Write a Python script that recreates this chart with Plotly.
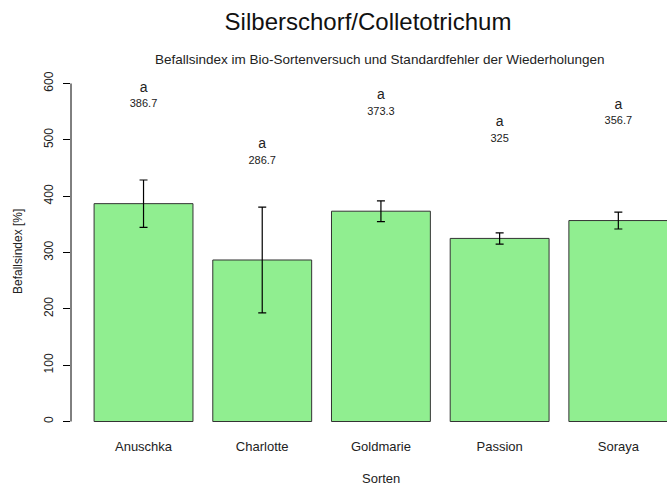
import plotly.graph_objects as go

sorten = ["Anuschka", "Charlotte", "Goldmarie", "Passion", "Soraya"]
befall = [386.7, 286.7, 373.3, 325, 356.7]
stdfehler = [42, 94, 18.5, 10, 15]
buchstaben = ["a", "a", "a", "a", "a"]
y_ticks = [0, 100, 200, 300, 400, 500, 600]

FONT = "Liberation Sans, Arial, sans-serif"
W, H = 667, 487
L, R, T, B = 71, 0, 60, 57

fig = go.Figure()

fig.add_trace(go.Bar(
    x=sorten, y=befall, width=0.833,
    marker=dict(color="#90EE90", line=dict(color="#333333", width=1)),
    error_y=dict(type="data", array=stdfehler, visible=True,
                 color="black", thickness=1.2, width=4),
    hoverinfo="skip",
))

# significance letters and mean values above the bars
fig.add_trace(go.Scatter(
    x=sorten, y=[v + 205 for v in befall], mode="text",
    text=buchstaben, textposition="middle center",
    textfont=dict(size=14, color="#222222", family=FONT),
    cliponaxis=False, hoverinfo="skip",
))
fig.add_trace(go.Scatter(
    x=sorten, y=[v + 176 for v in befall], mode="text",
    text=[f"{v:g}" for v in befall], textposition="middle center",
    textfont=dict(size=11, color="#222222", family=FONT),
    cliponaxis=False, hoverinfo="skip",
))

# R-style y axis line from 0 to 600 only
fig.add_shape(type="line", xref="paper", yref="y", x0=0, x1=0,
              y0=y_ticks[0], y1=y_ticks[-1], line=dict(color="black", width=1))

pw, ph = W - L - R, H - T - B
fig.update_layout(
    width=W, height=H,
    margin=dict(l=L, r=R, t=T, b=B, pad=0),
    paper_bgcolor="white", plot_bgcolor="white",
    showlegend=False,
    font=dict(family=FONT, color="#222222"),
    title=dict(text="Silberschorf/Colletotrichum", x=368 / W, xanchor="center",
               y=1 - 22 / H, yanchor="middle", yref="container",
               font=dict(size=24, color="#111111", family=FONT)),
    xaxis=dict(range=[-0.611, 4.41], showline=False, showgrid=False,
               zeroline=False, ticks="", tickfont=dict(size=13, color="#222222"),
               ticklabelstandoff=7),
    yaxis=dict(range=[-15.09, 641.7], showline=False, showgrid=False,
               zeroline=False, tickvals=y_ticks, ticks="outside", ticklen=7,
               tickcolor="black", tickwidth=1, tickangle=-90,
               tickfont=dict(size=12, color="#222222"), ticklabelstandoff=5),
    annotations=[
        dict(text="Befallsindex im Bio-Sortenversuch und Standardfehler der Wiederholungen",
             xref="paper", yref="paper", x=(380 - L) / pw, y=(H - B - 59) / ph,
             xanchor="center", yanchor="middle", showarrow=False,
             font=dict(size=13.5, color="#222222")),
        dict(text="Sorten", xref="paper", yref="paper",
             x=(381 - L) / pw, y=(H - B - 478) / ph,
             xanchor="center", yanchor="middle", showarrow=False,
             font=dict(size=13, color="#222222")),
        dict(text="Befallsindex [%]", xref="paper", yref="paper",
             x=(18 - L) / pw, y=(H - B - 252) / ph, textangle=-90,
             xanchor="center", yanchor="middle", showarrow=False,
             font=dict(size=12, color="#222222")),
    ],
)

fig.write_html("out.html", config={"displayModeBar": False},
               post_script="document.body.style.margin='0px';"
                           "document.body.style.overflow='hidden';")
